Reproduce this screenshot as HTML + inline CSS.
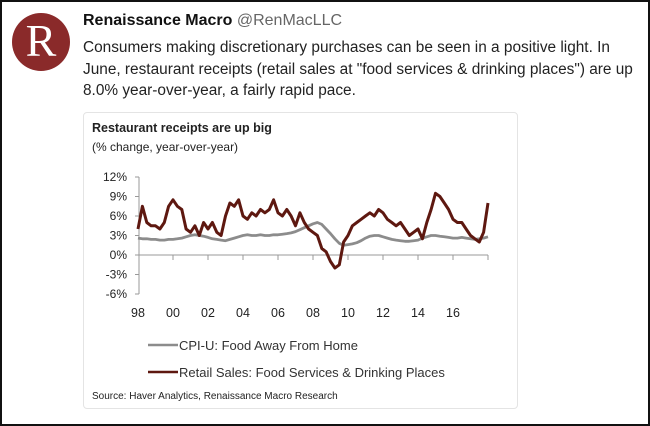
<!DOCTYPE html>
<html><head><meta charset="utf-8"><style>
body{margin:0;width:650px;height:426px;background:#fff;font-family:"Liberation Sans",sans-serif;overflow:hidden}
#frame{position:absolute;left:0;top:0;width:646px;height:422px;border:2px solid #111}
#avatar{position:absolute;left:12px;top:13px;width:58px;height:58px;border-radius:50%;background:#8a2a2a;color:#fff;font-family:"Liberation Serif",serif;font-size:46px;text-align:center;line-height:56px}
#name{position:absolute;left:83px;top:12px;font-size:16px;color:#111}
#text{position:absolute;left:83px;top:37px;font-size:15.4px;line-height:21.5px;color:#222;white-space:nowrap}
#card{position:absolute;left:83px;top:112px;width:433px;height:295px;border:1px solid #e4e4e4;border-radius:4px}
svg{position:absolute;left:0;top:0}
</style></head><body>
<div id="frame"></div>
<div id="avatar">R</div>
<div id="name"><b>Renaissance Macro</b> <span style="color:#666">@RenMacLLC</span></div>
<div id="text">Consumers making discretionary purchases can be seen in a positive light. In<br>June, restaurant receipts (retail sales at "food services &amp; drinking places") are up<br>8.0% year-over-year, a fairly rapid pace.</div>
<div id="card"></div>
<svg id="chart" width="650" height="426"></svg>
<script>
const years=["98","00","02","04","06","08","10","12","14","16"];
const yTicks=[12,9,6,3,0,-3,-6];
const retail=[4,7.5,5,4.5, 4.5,4,5,7.5, 8.5,7.5,7,4, 3.5,4.5,3,5, 4,5,3.5,3, 6,8,7.5,8.5, 6,5.5,6.5,6, 7,6.5,7,8.5, 6.5,6,7,6, 4.5,6.5,5,4, 3.5,3,1,0.5, -1,-2,-1.5,2, 3,4.5,5,5.5, 6,6.5,6,7, 6.5,5.5,5,4.5, 5,4,3,3.5, 4,2.5,5,7, 9.5,9,8,7, 5.5,5,5,4, 3,2.5,2,3.5, 8];
const cpi=[2.6,2.5,2.5,2.4, 2.4,2.3,2.3,2.4, 2.4,2.5,2.6,2.8, 3.0,3.1,3.0,2.9, 2.7,2.5,2.4,2.3, 2.2,2.4,2.6,2.8, 3.0,3.1,3.0,3.0, 3.1,3.0,3.0,3.1, 3.1,3.2,3.3,3.4, 3.6,3.9,4.2,4.5, 4.8,5.0,4.7,4.0, 3.3,2.5,1.8,1.5, 1.6,1.7,1.9,2.2, 2.6,2.9,3.0,3.0, 2.8,2.6,2.4,2.3, 2.2,2.1,2.1,2.2, 2.3,2.6,2.8,3.0, 3.0,2.9,2.8,2.7, 2.6,2.6,2.7,2.6, 2.5,2.4,2.5,2.6, 2.8];
const NS="http://www.w3.org/2000/svg";const svg=document.getElementById('chart');
function x(t){return 138+t*17.5;}
function y(v){return 255-v*6.5;}
function el(tag,a,txt){const e=document.createElementNS(NS,tag);for(const k in a)e.setAttribute(k,a[k]);if(txt!=null)e.textContent=txt;svg.appendChild(e);return e;}
let e;
e=el('text',{x:92,y:132,'font-size':12.5,'font-weight':'bold',fill:'#222'},'Restaurant receipts are up big');


e=el('text',{x:92,y:151,'font-size':12,fill:'#222'},'(% change, year-over-year)');


e=el('line',{x1:139,y1:y(12),x2:139,y2:y(-6),stroke:'#999','stroke-width':1});


yTicks.forEach(v=>{
 e=el('text',{x:127,y:y(v)+4,'font-size':12,fill:'#222','text-anchor':'end'},v+'%');
 
 
 e=el('line',{x1:135,y1:y(v),x2:139,y2:y(v),stroke:'#999'});
 
 
});
e=el('line',{x1:139,y1:y(0),x2:x(20),y2:y(0),stroke:'#999'});


years.forEach((l,i)=>{
 e=el('text',{x:x(i*2),y:317,'font-size':12.5,fill:'#222','text-anchor':'middle'},l);
 
 
});
for(let i=1;i<=10;i++){e=el('line',{x1:x(i*2),y1:y(0),x2:x(i*2),y2:y(0)+5,stroke:'#999'});
 
 }
function path(arr){return arr.map((v,i)=>(i?'L':'M')+x(i/4).toFixed(1)+' '+y(v).toFixed(1)).join(' ');}
e=el('path',{d:path(cpi),fill:'none',stroke:'#8c8c8c','stroke-width':2.8,'stroke-linejoin':'round'});


e=el('path',{d:path(retail),fill:'none',stroke:'#5e1810','stroke-width':3,'stroke-linejoin':'round'});


e=el('line',{x1:148,y1:345,x2:178,y2:345,stroke:'#8c8c8c','stroke-width':2.5});


e=el('text',{x:179,y:350,'font-size':13,fill:'#333'},'CPI-U: Food Away From Home');


e=el('line',{x1:148,y1:372,x2:178,y2:372,stroke:'#5e1810','stroke-width':2.5});


e=el('text',{x:179,y:377,'font-size':13,fill:'#333'},'Retail Sales: Food Services & Drinking Places');


e=el('text',{x:92,y:399,'font-size':10,fill:'#222'},'Source: Haver Analytics, Renaissance Macro Research');


</script>
</body></html>
